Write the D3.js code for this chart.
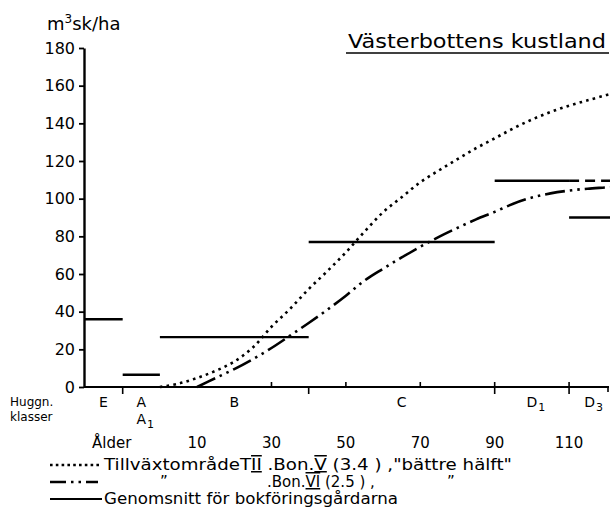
<!DOCTYPE html>
<html>
<head>
<meta charset="utf-8">
<script src="https://cdn.jsdelivr.net/npm/d3@7"></script>
<style>
  body { margin: 0; background: #fff; }
  text { font-family: "DejaVu Sans", sans-serif; fill: #000; }
</style>
</head>
<body>
<script>
// Bon. V (3.4), "bättre hälft" - dotted curve, m3sk/ha by age
const bonVAge = [0, 5, 10, 15, 20, 25, 30, 35, 40, 45, 50, 55, 60, 65, 70, 75, 80, 85, 90, 95, 100, 105, 110, 115, 120, 121];
const bonVVol = [0, 1.8, 4.8, 8.6, 13.5, 21, 32, 41.5, 52, 61.5, 71.5, 82.5, 92.8, 100.8, 108.7, 115, 121, 126.8, 132, 137.3, 142, 146, 149.4, 152.2, 155, 155.5];

// Bon. VI (2.5) - dash-dot curve
const bonVIAge = [10, 15, 20, 25, 30, 35, 40, 45, 50, 55, 60, 65, 70, 75, 80, 85, 90, 95, 100, 105, 110, 115, 120, 121];
const bonVIVol = [0, 4.8, 9.5, 14.8, 20.7, 27.3, 34, 41, 48.5, 56.5, 62.8, 68.8, 74.5, 79.7, 84.5, 89, 93, 97.3, 100.6, 102.8, 104.3, 105.3, 106, 106.2];

// huggningsklasser and the average for the book-keeping farms
const classNames = ["E", "A", "B", "C", "D", "D"];
const classSubs = ["", "", "", "", "1", "3"];
const classBounds = [-20.4, -10, 0, 40, 90, 110, 121];
const classMeans = [36, 6.5, 26.5, 77, 109.5, 90];
const d1Extension = [110, 121];

const yTicks = [0, 20, 40, 60, 80, 100, 120, 140, 160, 180];
const ageLabels = [10, 30, 50, 70, 90, 110];
const ageTicks = [30, 50, 70, 90, 110];
const boundTicks = [-10, 40, 90, 110];

const width = 610;
const height = 522;

const svg = d3.select("body").append("svg")
  .attr("width", width)
  .attr("height", height);

svg.append("rect").attr("width", width).attr("height", height).attr("fill", "#fff");

const x = d3.scaleLinear().domain([-20.4, 121]).range([84, 610]);
const y = d3.scaleLinear().domain([0, 180]).range([387, 48]);

// y axis
const yAxis = svg.append("g")
  .attr("transform", `translate(${x(-20.4)},0)`)
  .call(d3.axisLeft(y).tickValues(yTicks).tickSize(5).tickSizeOuter(0).tickPadding(4));
yAxis.select(".domain").attr("stroke", "#000").attr("stroke-width", 2.4);
yAxis.selectAll(".tick line").attr("stroke", "#000").attr("stroke-width", 1.8);
yAxis.selectAll(".tick text")
  .style("font-family", "DejaVu Sans")
  .style("font-size", "16px")
  .attr("fill", "#000");

// unit label
const unit = svg.append("text").attr("x", 47).attr("y", 30).style("font-size", "18px");
unit.append("tspan").text("m");
unit.append("tspan").text("3").style("font-size", "12px").attr("dy", -7);
unit.append("tspan").text("sk/ha").attr("dy", 7);

// title
svg.append("text")
  .attr("x", 348).attr("y", 48)
  .attr("textLength", 258).attr("lengthAdjust", "spacingAndGlyphs")
  .style("font-size", "19px")
  .text("Västerbottens kustland");
svg.append("line")
  .attr("x1", 346).attr("x2", 609).attr("y1", 53).attr("y2", 53)
  .attr("stroke", "#000").attr("stroke-width", 1.6);

// x axis
svg.append("line")
  .attr("x1", x(-20.4)).attr("x2", 609).attr("y1", y(0)).attr("y2", y(0))
  .attr("stroke", "#000").attr("stroke-width", 2.2);
svg.selectAll("line.up").data(ageTicks).join("line")
  .attr("class", "up")
  .attr("x1", d => x(d)).attr("x2", d => x(d))
  .attr("y1", y(0)).attr("y2", y(0) - 5)
  .attr("stroke", "#000").attr("stroke-width", 1.6);
svg.selectAll("line.down").data(boundTicks).join("line")
  .attr("class", "down")
  .attr("x1", d => x(d)).attr("x2", d => x(d))
  .attr("y1", y(0)).attr("y2", y(0) + 7)
  .attr("stroke", "#000").attr("stroke-width", 1.6);
svg.append("line")
  .attr("x1", 608).attr("x2", 608).attr("y1", y(0)).attr("y2", y(0) + 5)
  .attr("stroke", "#000").attr("stroke-width", 1.6);

// class labels
svg.append("text").attr("x", 10).attr("y", 406).style("font-size", "12px").text("Huggn.");
svg.append("text").attr("x", 10).attr("y", 421).style("font-size", "12px").text("klasser");

classNames.forEach((name, i) => {
  const cx = x((classBounds[i] + classBounds[i + 1]) / 2);
  const t = svg.append("text")
    .attr("x", cx).attr("y", 407)
    .attr("text-anchor", "middle")
    .style("font-size", "14px")
    .text(name);
  if (classSubs[i]) {
    const w = t.node().getComputedTextLength();
    svg.append("text")
      .attr("x", cx + w / 2 + 1).attr("y", 411)
      .style("font-size", "11px")
      .text(classSubs[i]);
  }
});
// A1 under A
const aX = x((classBounds[1] + classBounds[2]) / 2);
const a1 = svg.append("text").attr("x", aX).attr("y", 424)
  .attr("text-anchor", "middle").style("font-size", "14px").text("A");
svg.append("text")
  .attr("x", aX + a1.node().getComputedTextLength() / 2 + 1).attr("y", 428)
  .style("font-size", "11px").text("1");

// age labels
svg.append("text").attr("x", 92).attr("y", 448).style("font-size", "15px").text("Ålder");
svg.selectAll("text.age").data(ageLabels).join("text")
  .attr("class", "age")
  .attr("x", d => x(d)).attr("y", 448)
  .attr("text-anchor", "middle")
  .style("font-size", "15px")
  .text(d => d);

// mean lines per class
const means = classMeans.map((v, i) => ({ from: classBounds[i], to: classBounds[i + 1], v }));
svg.selectAll("line.mean").data(means).join("line")
  .attr("class", "mean")
  .attr("x1", d => x(d.from)).attr("x2", d => x(d.to))
  .attr("y1", d => y(d.v)).attr("y2", d => y(d.v))
  .attr("stroke", "#000").attr("stroke-width", 2.4);
svg.append("line")
  .attr("x1", x(d1Extension[0])).attr("x2", x(d1Extension[1]))
  .attr("y1", y(classMeans[4])).attr("y2", y(classMeans[4]))
  .attr("stroke", "#000").attr("stroke-width", 2.4)
  .attr("stroke-dasharray", "10 6");

// curves
const line = d3.line()
  .x(d => x(d[0]))
  .y(d => y(d[1]))
  .curve(d3.curveCatmullRom.alpha(0.5));

const dotted = "2.6 4.2";
svg.append("path")
  .datum(bonVAge.map((a, i) => [a, bonVVol[i]]))
  .attr("d", line)
  .attr("fill", "none")
  .attr("stroke", "#000")
  .attr("stroke-width", 2.6)
  .attr("stroke-dasharray", dotted);

const dashDot = "20 5 2.5 5 2.5 5";
svg.append("path")
  .datum(bonVIAge.map((a, i) => [a, bonVIVol[i]]))
  .attr("d", line)
  .attr("fill", "none")
  .attr("stroke", "#000")
  .attr("stroke-width", 2.6)
  .attr("stroke-dasharray", dashDot);

// legend
const legendY = [470, 487, 504];
svg.append("line").attr("x1", 50).attr("x2", 102).attr("y1", legendY[0] - 5).attr("y2", legendY[0] - 5)
  .attr("stroke", "#000").attr("stroke-width", 2.6).attr("stroke-dasharray", "2.6 3.2");
svg.append("line").attr("x1", 50).attr("x2", 98).attr("y1", legendY[1] - 5).attr("y2", legendY[1] - 5)
  .attr("stroke", "#000").attr("stroke-width", 2.6).attr("stroke-dasharray", "16 5 2.5 5 2.5 5");
svg.append("line").attr("x1", 50).attr("x2", 102).attr("y1", legendY[2] - 5).attr("y2", legendY[2] - 5)
  .attr("stroke", "#000").attr("stroke-width", 2);

const roman = "overline underline";
const l1 = svg.append("text").attr("x", 104).attr("y", legendY[0])
  .attr("textLength", 408).attr("lengthAdjust", "spacingAndGlyphs")
  .style("font-size", "15px");
l1.append("tspan").text("TillväxtområdeT");
l1.append("tspan").text("II").style("text-decoration", roman);
l1.append("tspan").text(" .Bon.");
l1.append("tspan").text("V").style("text-decoration", roman);
l1.append("tspan").text(" (3.4 ) ,\"bättre hälft\"");

svg.append("text").attr("x", 160).attr("y", legendY[1]).style("font-size", "15px").text("”");
const l2 = svg.append("text").attr("x", 267).attr("y", legendY[1]).style("font-size", "15px");
l2.append("tspan").text(".Bon.");
l2.append("tspan").text("VI").style("text-decoration", roman);
l2.append("tspan").text(" (2.5 ) ,");
svg.append("text").attr("x", 447).attr("y", legendY[1]).style("font-size", "15px").text("”");

svg.append("text").attr("x", 104).attr("y", legendY[2])
  .attr("textLength", 294).attr("lengthAdjust", "spacingAndGlyphs")
  .style("font-size", "15px")
  .text("Genomsnitt för bokföringsgårdarna");
</script>
</body>
</html>
